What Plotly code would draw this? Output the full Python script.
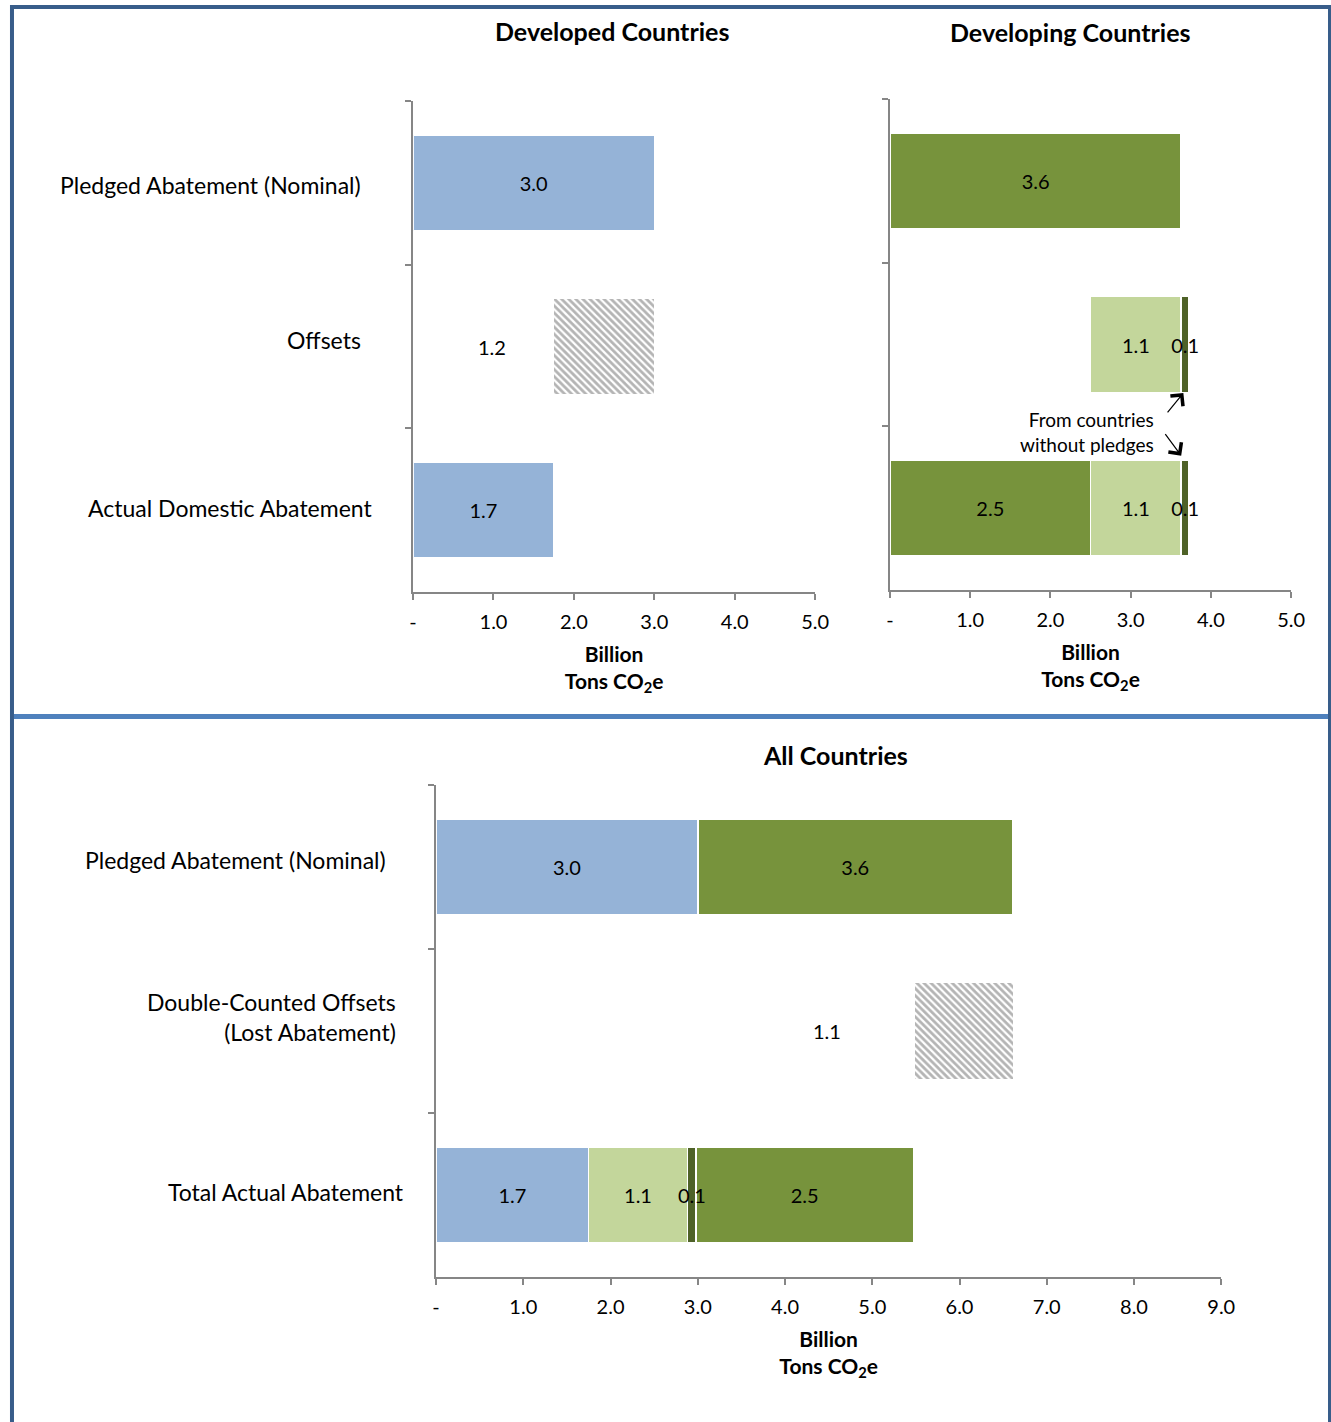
import plotly.graph_objects as go

W, H = 1331, 1422          # reference canvas (pixel plan)
FIG_W = 1346               # rendered width that the capture maps onto the 1331 canvas
FONT = "Lato"

# ---------------- data ----------------
dev_cats = ["Pledged Abatement (Nominal)", "Offsets", "Actual Domestic Abatement"]
dev_domestic = [3.0, None, 1.75]
dev_domestic_txt = ["3.0", None, "1.7"]
dev_offset_base = [None, 1.75, None]
dev_offsets = [None, 1.25, None]
dev_offset_label = "1.2"

dvg_cats = ["Pledged Abatement (Nominal)", "Offsets", "Actual Domestic Abatement"]
dvg_pledged_green = [3.63, None, 2.5]
dvg_pledged_txt = ["3.6", None, "2.5"]
dvg_offset_base = [None, 2.5, None]
dvg_light = [None, 1.13, 1.13]
dvg_light_txt = [None, "1.1", "1.1"]
dvg_dark = [None, 0.1, 0.1]
dvg_dark_txt = [None, "0.1", "0.1"]

all_cats = ["Pledged Abatement (Nominal)", "Double-Counted Offsets<br>(Lost Abatement)", "Total Actual Abatement"]
all_blue = [3.0, None, 1.75]
all_blue_txt = ["3.0", None, "1.7"]
all_offset_base = [None, 5.49, None]
all_light = [None, None, 1.13]
all_light_txt = [None, None, "1.1"]
all_dark = [None, None, 0.1]
all_dark_label = "0.1"
all_green = [3.61, None, 2.49]
all_green_txt = ["3.6", None, "2.5"]
all_offsets = [None, 1.12, None]
all_offset_label = "1.1"

x_ticks_5 = [0, 1, 2, 3, 4, 5]
x_ticks_9 = [0, 1, 2, 3, 4, 5, 6, 7, 8, 9]
def tick_text(vals):
    return ["-" if v == 0 else f"{v:.1f}" for v in vals]

# ---------------- styles ----------------
BLUE = "#95B3D7"
GREEN = "#77933C"
LIGHT = "#C3D69B"
DARK = "#4F6228"
AXIS = "#868686"
BW = 0.585
FS_BAR = 20
FS_TICK = 20
FS_CAT = 23
FS_TITLE = 25
FS_AXT = 21
FS_NOTE = 19

# category label placement (right edge px, centre y px) as in the reference layout
dev_cat_pos = [(360, 185), (360, 340), (371, 508)]
all_cat_pos = [(385, 860), (395, 1017), (403, 1192)]

def bar(x, y, color, text=None, xa="x", ya="y", pattern=False, invisible=False):
    marker = dict(color=color, line=dict(color="white", width=1.5))
    if invisible:
        marker = dict(color="rgba(0,0,0,0)", line=dict(width=0))
    if pattern:
        marker = dict(color="white", line=dict(width=0),
                      pattern=dict(shape="\\", fgcolor="#6a6a6a", bgcolor="white",
                                   size=5, solidity=0.55))
    if text:
        kw = dict(text=text, textposition="inside", insidetextanchor="middle",
                  textangle=0, constraintext="none",
                  textfont=dict(family=FONT, size=FS_BAR, color="black"))
    else:
        kw = dict(textposition="none")
    return go.Bar(x=x, y=y, orientation="h", marker=marker, width=BW,
                  xaxis=xa, yaxis=ya, showlegend=False, hoverinfo="skip", **kw)

fig = go.Figure()
fig.add_trace(bar(dev_domestic, dev_cats, BLUE, dev_domestic_txt, "x", "y"))
fig.add_trace(bar(dev_offset_base, dev_cats, None, None, "x", "y", invisible=True))
fig.add_trace(bar(dev_offsets, dev_cats, None, None, "x", "y", pattern=True))
fig.add_trace(bar(dvg_pledged_green, dvg_cats, GREEN, dvg_pledged_txt, "x2", "y2"))
fig.add_trace(bar(dvg_offset_base, dvg_cats, None, None, "x2", "y2", invisible=True))
fig.add_trace(bar(dvg_light, dvg_cats, LIGHT, dvg_light_txt, "x2", "y2"))
fig.add_trace(bar(dvg_dark, dvg_cats, DARK, dvg_dark_txt, "x2", "y2"))
fig.add_trace(bar(all_blue, all_cats, BLUE, all_blue_txt, "x3", "y3"))
fig.add_trace(bar(all_offset_base, all_cats, None, None, "x3", "y3", invisible=True))
fig.add_trace(bar(all_light, all_cats, LIGHT, all_light_txt, "x3", "y3"))
fig.add_trace(bar(all_dark, all_cats, DARK, None, "x3", "y3"))
fig.add_trace(bar(all_green, all_cats, GREEN, all_green_txt, "x3", "y3"))
fig.add_trace(bar(all_offsets, all_cats, None, None, "x3", "y3", pattern=True))

def px_x(p):
    return p / W
def px_y(p):
    return 1 - p / H

def xaxis(domain, rng, ticks, anchor):
    return dict(domain=domain, range=rng, anchor=anchor,
                tickvals=ticks, ticktext=tick_text(ticks),
                showline=True, linecolor=AXIS, linewidth=2, mirror=False,
                ticks="outside", ticklen=6, tickcolor=AXIS, tickwidth=1.5,
                ticklabelstandoff=5,
                showgrid=False, zeroline=False,
                tickfont=dict(family=FONT, size=FS_TICK, color="black"),
                title=dict(text="<b>Billion<br>Tons CO<sub>2</sub>e</b>",
                           font=dict(family=FONT, size=FS_AXT, color="black"),
                           standoff=15),
                fixedrange=True)

def yaxis(domain, cats, anchor):
    return dict(domain=domain, type="category", categoryorder="array",
                categoryarray=cats, range=[2.5, -0.5], anchor=anchor,
                tickson="boundaries", ticks="outside", ticklen=6,
                tickcolor=AXIS, tickwidth=1.5,
                showline=True, linecolor=AXIS, linewidth=2,
                showgrid=False, zeroline=False, showticklabels=False,
                fixedrange=True)

fig.update_layout(
    width=FIG_W, height=H, margin=dict(l=0, r=0, t=0, b=0),
    paper_bgcolor="white", plot_bgcolor="rgba(0,0,0,0)",
    barmode="stack", bargap=0.415,
    xaxis=xaxis([px_x(410), px_x(813)], [0, 5], x_ticks_5, "y"),
    yaxis=yaxis([px_y(592), px_y(101)], dev_cats, "x"),
    xaxis2=xaxis([px_x(888), px_x(1290)], [0, 5], x_ticks_5, "y2"),
    yaxis2=yaxis([px_y(590), px_y(99)], dvg_cats, "x2"),
    xaxis3=xaxis([px_x(433), px_x(1220)], [0, 9], x_ticks_9, "y3"),
    yaxis3=yaxis([px_y(1277), px_y(785)], all_cats, "x3"),
)

# category labels
for cats, pos in ((dev_cats, dev_cat_pos), (all_cats, all_cat_pos)):
    for c, (xr, yc) in zip(cats, pos):
        fig.add_annotation(text=c, xref="paper", yref="paper", x=px_x(xr), y=px_y(yc),
                           xanchor="right", yanchor="middle", align="right", showarrow=False,
                           font=dict(family=FONT, size=FS_CAT, color="black"))

titles = [("Developed Countries", 609, 31), ("Developing Countries", 1069, 32), ("All Countries", 833, 755)]
for t, x, y in titles:
    fig.add_annotation(text=f"<b>{t}</b>", xref="paper", yref="paper",
                       x=px_x(x), y=px_y(y), xanchor="center", yanchor="middle",
                       showarrow=False, font=dict(family=FONT, size=FS_TITLE, color="black"))

fig.add_annotation(text=dev_offset_label, xref="x", yref="y", x=0.98, y=1,
                   showarrow=False, font=dict(family=FONT, size=FS_BAR, color="black"))
fig.add_annotation(text=all_offset_label, xref="x3", yref="y3", x=4.48, y=1,
                   showarrow=False, font=dict(family=FONT, size=FS_BAR, color="black"))
fig.add_annotation(text=all_dark_label, xref="x3", yref="y3",
                   x=all_blue[2] + all_light[2] + all_dark[2] / 2, y=2,
                   showarrow=False, font=dict(family=FONT, size=FS_BAR, color="black"))

fig.add_annotation(text="From countries<br>without pledges", xref="x2", yref="y2",
                   x=3.32, y=1.535, xanchor="right", yanchor="middle", align="right",
                   showarrow=False, font=dict(family=FONT, size=FS_NOTE, color="black"))
fig.add_annotation(xref="x2", yref="y2", x=3.657, y=1.296, ax=-17, ay=21, text="",
                   showarrow=True, arrowhead=4, arrowsize=2.6, arrowwidth=1.2, arrowcolor="black")
fig.add_annotation(xref="x2", yref="y2", x=3.63, y=1.679, ax=-17, ay=-23, text="",
                   showarrow=True, arrowhead=4, arrowsize=2.6, arrowwidth=1.2, arrowcolor="black")

fig.add_shape(type="rect", xref="paper", yref="paper",
              x0=px_x(8), x1=px_x(1329), y0=px_y(1440), y1=px_y(7),
              line=dict(color="#385D8A", width=4), layer="below")
fig.add_shape(type="line", xref="paper", yref="paper",
              x0=px_x(10), x1=px_x(1327), y0=px_y(716.5), y1=px_y(716.5),
              line=dict(color="#4F81BD", width=5), layer="below")

fig.write_html("out.html",
               post_script="document.documentElement.style.overflow='hidden';"
                           "document.body.style.overflow='hidden';")
